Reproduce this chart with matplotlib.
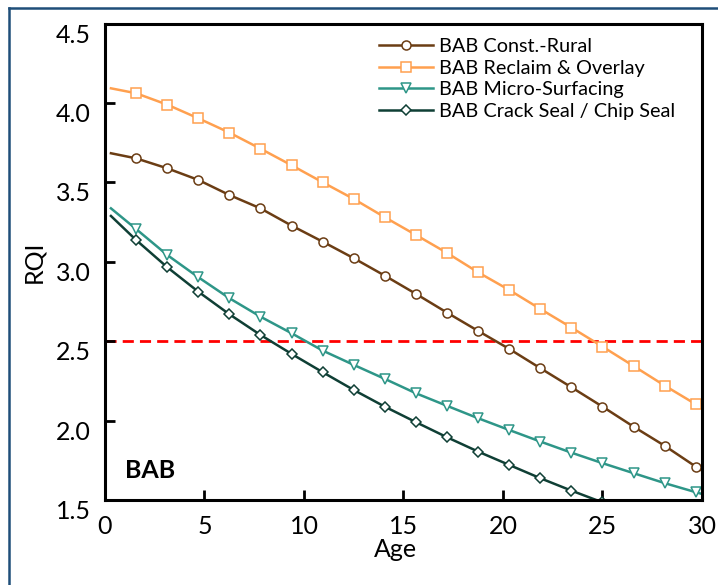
import matplotlib

matplotlib.use("Agg")
import matplotlib.pyplot as plt
from matplotlib.lines import Line2D

plt.rcParams["font.family"] = ["Lato", "DejaVu Sans"]

# Age at which each curve was read (first/last are the line ends, the rest carry markers)
AGE = [0.3, 1.56, 3.13, 4.69, 6.25, 7.81, 9.38, 10.94, 12.5, 14.06, 15.63,
       17.19, 18.75, 20.31, 21.88, 23.44, 25.0, 26.56, 28.13, 29.69, 30.0]

CONST_RURAL = [3.684, 3.652, 3.589, 3.516, 3.421, 3.337, 3.228, 3.127, 3.023, 2.913,
               2.798, 2.680, 2.565, 2.452, 2.330, 2.210, 2.088, 1.962, 1.841, 1.710, 1.685]
RECLAIM = [4.093, 4.062, 3.990, 3.904, 3.814, 3.713, 3.608, 3.501, 3.396, 3.281,
           3.169, 3.056, 2.934, 2.823, 2.703, 2.586, 2.466, 2.344, 2.220, 2.103, 2.080]
MICRO = [3.337, 3.207, 3.043, 2.903, 2.771, 2.655, 2.550, 2.441, 2.351, 2.263,
         2.172, 2.093, 2.015, 1.941, 1.868, 1.798, 1.732, 1.669, 1.606, 1.549, 1.538]
CRACK_CHIP = [3.289, 3.138, 2.966, 2.812, 2.670, 2.540, 2.420, 2.305, 2.193, 2.088,
              1.990, 1.895, 1.805, 1.721, 1.637, 1.559, 1.485, 1.410, 1.340, 1.270, 1.260]

THRESHOLD = 2.5
SERIES = [
    ("BAB Const.-Rural", CONST_RURAL, "#6b3d14", "o"),
    ("BAB Reclaim & Overlay", RECLAIM, "#ffa04f", "s"),
    ("BAB Micro-Surfacing", MICRO, "#2e9688", "v"),
    ("BAB Crack Seal / Chip Seal", CRACK_CHIP, "#0f3f35", "D"),
]
X_TICKS = [0, 5, 10, 15, 20, 25, 30]
Y_TICKS = [1.5, 2.0, 2.5, 3.0, 3.5, 4.0, 4.5]


def main():
    fig = plt.figure(figsize=(7.18, 5.85), dpi=100)
    ax = fig.add_axes([0.1462, 0.1453, 0.8315, 0.8142])

    for label, vals, color, marker in SERIES:
        ms = 6.5 if marker != "D" else 5.5
        ax.plot(AGE, vals, color=color, linewidth=1.8, marker=marker,
                markersize=ms, markerfacecolor="white", markeredgecolor=color,
                markeredgewidth=1.1, markevery=slice(1, 20), label=label)

    ax.axhline(THRESHOLD, color="#ff0000", linewidth=2, linestyle=(0, (4, 2.2)),
               zorder=1)

    ax.set_xlim(0, 30)
    ax.set_ylim(1.5, 4.5)
    ax.set_xticks(X_TICKS)
    ax.set_yticks(Y_TICKS)
    ax.set_yticklabels([f"{v:.1f}" for v in Y_TICKS])
    ax.tick_params(direction="in", length=7, width=2, labelsize=18,
                   top=False, right=False)
    ax.tick_params(axis="x", pad=11)
    ax.tick_params(axis="y", pad=10)
    for lab in ax.get_yticklabels():
        lab.set_va("top")
    for sp in ax.spines.values():
        sp.set_linewidth(2.2)

    ax.set_xlabel("Age", fontsize=18)
    ax.xaxis.set_label_coords(0.487, -0.079)
    ax.set_ylabel("RQI", fontsize=18, labelpad=8)

    ax.text(0.034, 0.046, "BAB", transform=ax.transAxes, fontsize=18,
            fontweight="bold", ha="left", va="baseline")

    ax.legend(loc="upper left", bbox_to_anchor=(0.445, 0.987), frameon=False,
              fontsize=14.3, numpoints=1, handlelength=2.75, handletextpad=0.3,
              labelspacing=0.24, borderaxespad=0)

    # dark blue frame around the panel (open at right and bottom)
    fig.add_artist(Line2D([8.5 / 718, 1], [1 - 7.5 / 585] * 2, color="#1f4e79",
                          linewidth=1.8))
    fig.add_artist(Line2D([8.5 / 718] * 2, [0, 1 - 7.5 / 585], color="#1f4e79",
                          linewidth=1.8))

    fig.savefig("out.png", dpi=100, facecolor="white")


if __name__ == "__main__":
    main()
